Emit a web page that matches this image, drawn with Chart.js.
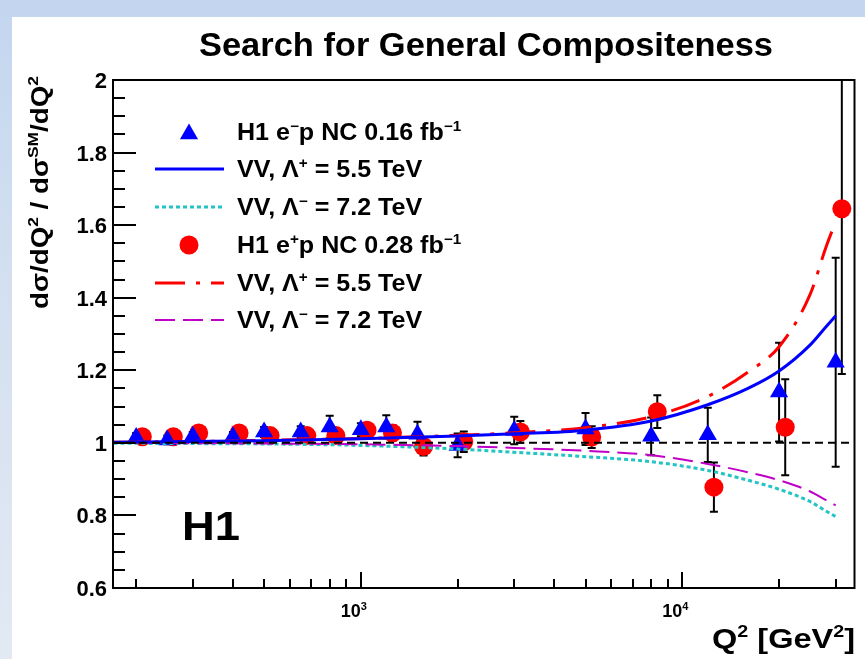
<!DOCTYPE html>
<html>
<head>
<meta charset="utf-8">
<title>Search for General Compositeness</title>
<script src="https://cdn.jsdelivr.net/npm/chart.js@4.4.1/dist/chart.umd.min.js"></script>
<style>
  html, body { margin: 0; padding: 0; }
  body {
    width: 865px; height: 659px; overflow: hidden; position: relative;
    background: linear-gradient(180deg, #c3d6ef 0%, #d4e0f0 45%, #e2e9f3 100%);
  }
  #panel { position: absolute; left: 12px; top: 17px; right: 0; bottom: 0; background: #fff; }
  #chart { position: absolute; left: 0; top: 0; }
</style>
</head>
<body>
<div id="panel"></div>
<canvas id="chart" width="865" height="659"></canvas>
<script>
// axis range (Q2 in GeV2, ratio to SM)
const xMin = 169.4;
const xMax = 34330;
const yMin = 0.6;
const yMax = 2;

// tick labels
const yTicks = [0.6, 0.8, 1, 1.2, 1.4, 1.6, 1.8, 2];
const yTickLabels = ['0.6', '0.8', '1', '1.2', '1.4', '1.6', '1.8', '2'];
const xTicks = [1000, 10000];
const xTickExp = ['3', '4'];
const xMinorTicks = [200, 300, 400, 500, 600, 700, 800, 900,
                     2000, 3000, 4000, 5000, 6000, 7000, 8000, 9000, 20000, 30000];

// H1 e-p NC data (blue triangles)
const emQ2 = [200, 250, 300, 400, 500, 650, 800, 1000, 1200, 1500, 2000, 3000, 5000, 8000, 12000, 20000, 30000];
const emRatio = [1.015, 1.008, 1.018, 1.017, 1.03, 1.03, 1.044, 1.036, 1.044, 1.024, 0.993, 1.034, 1.038, 1.018, 1.022, 1.14, 1.222];
const emErr = [0.012, 0.012, 0.012, 0.013, 0.014, 0.016, 0.031, 0.018, 0.032, 0.034, 0.033, 0.038, 0.044, 0.052, 0.075, 0.136, 0.288];

// H1 e+p NC data (red circles, drawn slightly shifted in Q2)
const epQ2 = [209, 261, 313, 418, 522, 679, 836, 1045, 1254, 1567, 2090, 3135, 5225, 8360, 12540, 20900, 31350];
const epRatio = [1.017, 1.017, 1.027, 1.027, 1.02, 1.02, 1.02, 1.035, 1.027, 0.99, 1.003, 1.03, 1.016, 1.086, 0.878, 1.043, 1.645];
const epErr = [0.012, 0.012, 0.012, 0.013, 0.014, 0.015, 0.018, 0.02, 0.022, 0.025, 0.028, 0.03, 0.03, 0.045, 0.068, 0.132, 0.455];

// VV contact interaction predictions
const curveQ2 = [170, 300, 500, 1000, 2000, 3000, 5000, 8000, 12000, 16000, 20000, 25000, 28000, 30000];
const emPlus = [1.002, 1.004, 1.006, 1.011, 1.019, 1.025, 1.035, 1.06, 1.105, 1.15, 1.198, 1.27, 1.32, 1.35];
const emMinus = [0.999, 0.998, 0.997, 0.993, 0.983, 0.974, 0.962, 0.948, 0.924, 0.897, 0.872, 0.838, 0.812, 0.797];
const epPlus = [1.002, 1.004, 1.007, 1.012, 1.021, 1.028, 1.042, 1.072, 1.128, 1.195, 1.265, 1.41, 1.54, 1.61];
const epMinus = [1.0, 0.999, 0.998, 0.996, 0.991, 0.986, 0.978, 0.966, 0.942, 0.919, 0.897, 0.866, 0.842, 0.828];

// texts ([text, superscript?])
const titleText = 'Search for General Compositeness';
const yTitle = [['dσ/dQ', 0], ['2', 1], [' / dσ', 0], ['SM', 1], ['/dQ', 0], ['2', 1]];
const xTitle = [['Q', 0], ['2', 1], [' [GeV', 0], ['2', 1], [']', 0]];
const legendLabels = [
  [['H1 e', 0], ['−', 1], ['p NC 0.16 fb', 0], ['−1', 1]],
  [['VV, Λ', 0], ['+', 1], [' = 5.5 TeV', 0]],
  [['VV, Λ', 0], ['−', 1], [' = 7.2 TeV', 0]],
  [['H1 e', 0], ['+', 1], ['p NC 0.28 fb', 0], ['−1', 1]],
  [['VV, Λ', 0], ['+', 1], [' = 5.5 TeV', 0]],
  [['VV, Λ', 0], ['−', 1], [' = 7.2 TeV', 0]]
];

const FONT = '"Liberation Sans", Arial, Helvetica, sans-serif';

const pts = (xs, ys) => xs.map((x, i) => ({ x: x, y: ys[i] }));

function richWidth(ctx, segs, size, weight) {
  let w = 0;
  segs.forEach(s => {
    ctx.font = weight + ' ' + (s[1] ? Math.round(size * 0.62) : size) + 'px ' + FONT;
    w += ctx.measureText(s[0]).width;
  });
  return w;
}

// draws text with superscripts; stretch is a horizontal factor, or a target width if > 5
function drawRich(ctx, segs, x, y, size, weight, align, stretch) {
  const w = richWidth(ctx, segs, size, weight);
  const sx = stretch > 5 ? stretch / w : (stretch || 1);
  const x0 = align === 'right' ? -w * sx : (align === 'center' ? -w * sx / 2 : 0);
  ctx.save();
  ctx.translate(x + x0, y);
  ctx.scale(sx, 1);
  ctx.textAlign = 'left';
  ctx.textBaseline = 'alphabetic';
  ctx.fillStyle = '#000';
  let cx = 0;
  segs.forEach(s => {
    ctx.font = weight + ' ' + (s[1] ? Math.round(size * 0.62) : size) + 'px ' + FONT;
    ctx.fillText(s[0], cx, s[1] ? -size * 0.4 : 0);
    cx += ctx.measureText(s[0]).width;
  });
  ctx.restore();
}

function drawErrors(ctx, chart, xs, ys, es) {
  const sx = chart.scales.x, sy = chart.scales.y;
  xs.forEach((q, i) => {
    const px = sx.getPixelForValue(q);
    const top = sy.getPixelForValue(ys[i] + es[i]);
    const bot = sy.getPixelForValue(ys[i] - es[i]);
    ctx.beginPath();
    ctx.moveTo(px, top); ctx.lineTo(px, bot);
    ctx.moveTo(px - 4, top); ctx.lineTo(px + 4, top);
    ctx.moveTo(px - 4, bot); ctx.lineTo(px + 4, bot);
    ctx.stroke();
  });
}

const h1Plot = {
  id: 'h1Plot',
  beforeDatasetsDraw(chart) {
    const ctx = chart.ctx, a = chart.chartArea;
    ctx.save();
    ctx.beginPath();
    ctx.rect(a.left, a.top, a.right - a.left, a.bottom - a.top);
    ctx.clip();
    ctx.strokeStyle = '#000';
    ctx.lineWidth = 2;
    drawErrors(ctx, chart, epQ2, epRatio, epErr);
    drawErrors(ctx, chart, emQ2, emRatio, emErr);
    ctx.restore();
  },
  afterDatasetsDraw(chart) {
    const ctx = chart.ctx, a = chart.chartArea;
    const sx = chart.scales.x, sy = chart.scales.y;
    ctx.save();
    ctx.strokeStyle = '#000';
    ctx.lineWidth = 2;
    ctx.setLineDash([]);
    ctx.strokeRect(a.left, a.top, a.right - a.left, a.bottom - a.top);

    // y ticks (inside the frame)
    ctx.beginPath();
    for (let v = yMin; v <= yMax + 1e-6; v += 0.05) {
      const py = Math.round(sy.getPixelForValue(v));
      ctx.moveTo(a.left, py); ctx.lineTo(a.left + 12, py);
    }
    yTicks.forEach(v => {
      const py = Math.round(sy.getPixelForValue(v));
      ctx.moveTo(a.left, py); ctx.lineTo(a.left + 23, py);
    });
    // x ticks
    xMinorTicks.forEach(v => {
      const px = Math.round(sx.getPixelForValue(v));
      ctx.moveTo(px, a.bottom); ctx.lineTo(px, a.bottom - 9);
    });
    xTicks.forEach(v => {
      const px = Math.round(sx.getPixelForValue(v));
      ctx.moveTo(px, a.bottom); ctx.lineTo(px, a.bottom - 16);
    });
    ctx.stroke();

    // tick labels
    yTicks.forEach((v, i) => {
      drawRich(ctx, [[yTickLabels[i], 0]], 107, sy.getPixelForValue(v) + 8, 22, 'bold', 'right', 1.0);
    });
    xTicks.forEach((v, i) => {
      const px = sx.getPixelForValue(v);
      drawRich(ctx, [['10', 0], [xTickExp[i], 1]], px - richWidth(ctx, [['10', 0]], 18, 'bold'),
               617, 18, 'bold', 'left', 1.0);
    });

    // titles
    drawRich(ctx, [[titleText, 0]], 486, 56, 34, 'bold', 'center', 574);
    drawRich(ctx, xTitle, 855, 648, 28, 'bold', 'right', 143);
    ctx.save();
    ctx.translate(48, 76);
    ctx.rotate(-Math.PI / 2);
    drawRich(ctx, yTitle, 0, 0, 24, 'bold', 'right', 233);
    ctx.restore();
    drawRich(ctx, [['H1', 0]], 182, 540, 40, 'bold', 'left', 58);

    // legend
    const rows = [132, 169, 207, 245, 283, 320];
    rows.forEach((y, r) => {
      const ds = chart.data.datasets[r];
      if (ds.showLine) {
        ctx.beginPath();
        ctx.strokeStyle = ds.borderColor;
        ctx.lineWidth = ds.borderWidth;
        ctx.setLineDash(ds.borderDash || []);
        ctx.moveTo(155, y); ctx.lineTo(224, y);
        ctx.stroke();
        ctx.setLineDash([]);
      } else {
        ctx.fillStyle = ds.pointBackgroundColor;
        Chart.helpers.drawPoint(ctx, { pointStyle: ds.pointStyle, radius: ds.pointRadius, rotation: 0, borderWidth: 0 },
                                189, y + (ds.pointStyle === 'triangle' ? 2 : 0));
      }
      drawRich(ctx, legendLabels[r], 237, y + 8, 23, 'bold', 'left', 1.09);
    });
    ctx.restore();
  }
};

new Chart(document.getElementById('chart'), {
  type: 'scatter',
  data: {
    datasets: [
      { // 0: e-p data
        data: pts(emQ2, emRatio),
        pointStyle: 'triangle', pointRadius: 10.5, pointBackgroundColor: '#0000ff',
        pointBorderWidth: 0, borderWidth: 0, showLine: false, order: 5
      },
      { // 1: e-p VV L+ 5.5
        data: pts(curveQ2, emPlus), showLine: true, pointRadius: 0,
        borderColor: '#0000ff', borderWidth: 3, cubicInterpolationMode: 'monotone', order: 1
      },
      { // 2: e-p VV L- 7.2
        data: pts(curveQ2, emMinus), showLine: true, pointRadius: 0,
        borderColor: '#22c4c4', borderWidth: 3, borderDash: [4, 3], cubicInterpolationMode: 'monotone', order: 4
      },
      { // 3: e+p data
        data: pts(epQ2, epRatio),
        pointStyle: 'circle', pointRadius: 9.5, pointBackgroundColor: '#ff0000',
        pointBorderWidth: 0, borderWidth: 0, showLine: false, order: 6
      },
      { // 4: e+p VV L+ 5.5
        data: pts(curveQ2, epPlus), showLine: true, pointRadius: 0,
        borderColor: '#ff0000', borderWidth: 3, borderDash: [30, 11, 4, 11], cubicInterpolationMode: 'monotone', order: 2
      },
      { // 5: e+p VV L- 7.2
        data: pts(curveQ2, epMinus), showLine: true, pointRadius: 0,
        borderColor: '#c000c8', borderWidth: 2, borderDash: [20, 8], cubicInterpolationMode: 'monotone', order: 3
      },
      { // 6: SM line
        data: pts([xMin, xMax], [1, 1]), showLine: true, pointRadius: 0,
        borderColor: '#000', borderWidth: 2, borderDash: [8, 5], order: 0
      }
    ]
  },
  options: {
    responsive: false,
    animation: false,
    devicePixelRatio: 1,
    layout: { padding: { left: 113, top: 80, right: 7, bottom: 71 } },
    plugins: { legend: { display: false }, tooltip: { enabled: false } },
    scales: {
      x: { type: 'logarithmic', min: xMin, max: xMax, display: false },
      y: { type: 'linear', min: yMin, max: yMax, display: false }
    }
  },
  plugins: [h1Plot]
});
</script>
</body>
</html>
